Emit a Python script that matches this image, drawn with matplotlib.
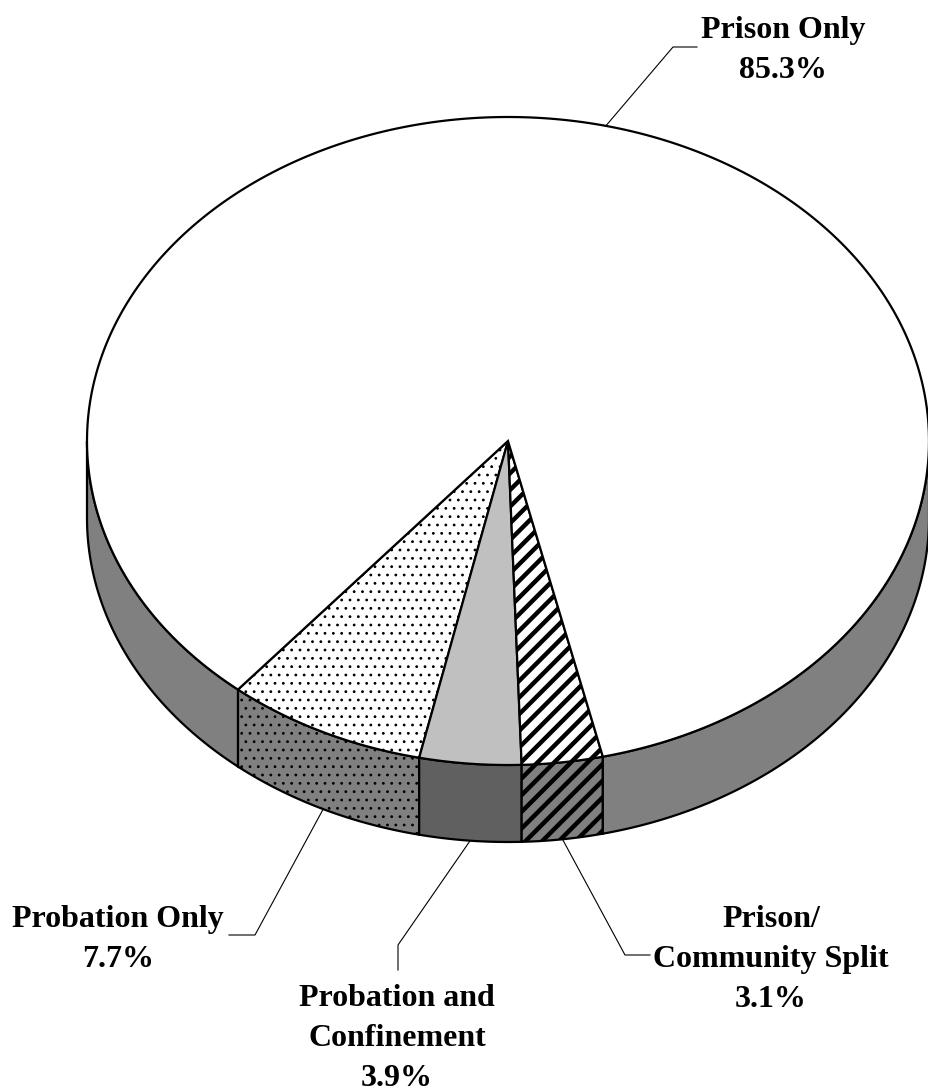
import numpy as np
import matplotlib
matplotlib.use("Agg")
import matplotlib.pyplot as plt
from matplotlib.patches import Polygon

# ---- data (counter-clockwise order starting at the lower-left) ----
categories = ["Probation Only", "Probation and Confinement",
              "Prison/Community Split", "Prison Only"]
values = [7.7, 3.9, 3.1, 85.3]
label_lines = [["Probation Only"], ["Probation and", "Confinement"],
               ["Prison/", "Community Split"], ["Prison Only"]]

top_colors = ["white", "#c0c0c0", "white", "white"]
side_colors = ["#808080", "#606060", "#808080", "#808080"]
hatches = ["..", None, "//", None]
hatch_lw = [0.8, 1.0, 3.2, 1.0]

# ---- geometry (pixel space) ----
W, H = 929, 1091
cx, cy = 508, 441
a, b = 421, 324
depth = 77
start = 230.1

fig = plt.figure(figsize=(W / 100, H / 100), dpi=100)
ax = fig.add_axes([0, 0, 1, 1])
ax.set_xlim(0, W)
ax.set_ylim(H, 0)
ax.axis('off')


def pt(t, dy=0.0):
    r = np.radians(t)
    return cx + a * np.cos(r), cy - b * np.sin(r) + dy


def make_poly(verts, fc, hatch, hlw):
    with plt.rc_context({'hatch.linewidth': hlw}):
        p = Polygon(verts, closed=True, facecolor=fc, edgecolor="black",
                    linewidth=1.6, hatch=hatch, joinstyle="miter")
    if hasattr(p, "set_hatch_linewidth"):
        p.set_hatch_linewidth(hlw)
    return p


total = sum(values)
angles = [start]
for v in values:
    angles.append(angles[-1] + v / total * 360.0)

# sides (front half: 180..360 degrees, modulo 360)
for i, v in enumerate(values):
    t1, t2 = angles[i], angles[i + 1]
    for base in (0, 360):
        lo = max(t1, 180 + base)
        hi = min(t2, 360 + base)
        if hi <= lo:
            continue
        ts = np.linspace(lo, hi, 200)
        top = [pt(t) for t in ts]
        bot = [pt(t, depth) for t in ts[::-1]]
        ax.add_patch(make_poly(top + bot, side_colors[i], hatches[i], hatch_lw[i]))

# top face wedges
for i, v in enumerate(values):
    t1, t2 = angles[i], angles[i + 1]
    ts = np.linspace(t1, t2, 400)
    verts = [(cx, cy)] + [pt(t) for t in ts]
    ax.add_patch(make_poly(verts, top_colors[i], hatches[i], hatch_lw[i]))

# ---- labels and leader lines ----
font = dict(family="Liberation Serif", weight="bold", size=23,
            ha="center", va="baseline", color="black")
# (text centre x, first baseline y, leader path from elbow to text, from side bottom?)
label_pos = {
    "Probation Only": (118, 927, [(255, 935), (229, 935)], True),
    "Probation and Confinement": (397, 1006, [(398, 945), (398, 970)], True),
    "Prison/Community Split": (771, 927, [(625, 955), (650, 955)], True),
    "Prison Only": (783, 38, [(673, 47), (697, 47)], False),
}
step = 40
for i, cat in enumerate(categories):
    x, y0, path, on_bottom = label_pos[cat]
    lines = label_lines[i] + [f"{values[i]}%"]
    for k, line in enumerate(lines):
        ax.text(x, y0 + k * step, line, **font)
    mid = (angles[i] + angles[i + 1]) / 2
    sx, sy = pt(mid, depth if on_bottom else 0)
    xs = [sx] + [p[0] for p in path]
    ys = [sy] + [p[1] for p in path]
    ax.plot(xs, ys, color="black", linewidth=0.8)

fig.savefig("out.png", dpi=100)
